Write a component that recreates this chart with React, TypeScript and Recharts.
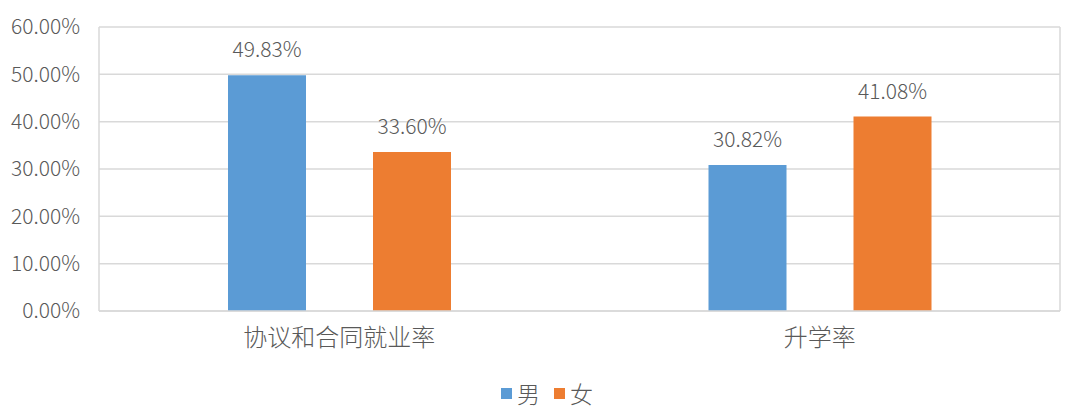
import { BarChart, Bar, XAxis, YAxis, CartesianGrid, LabelList } from "recharts";

// categories and values (percent)
const categories = ["协议和合同就业率", "升学率"];
const maleValues = [49.83, 30.82];
const femaleValues = [33.6, 41.08];
const yTicks = [0, 10, 20, 30, 40, 50, 60];

const series = [
  { key: "male", name: "男", color: "#5B9BD5" },
  { key: "female", name: "女", color: "#ED7D31" },
];

const data = categories.map((name, i) => ({
  name,
  male: maleValues[i],
  female: femaleValues[i],
}));

const FONT = '"Noto Sans CJK SC", "Noto Sans", sans-serif';
const TEXT = "#595959";
const GRID = "#D9D9D9";

const fmt = (v: number) => `${v.toFixed(2)}%`;

const App: React.FC = () => {
  return (
    <div style={{ position: "absolute", left: 0, top: 0, width: 1069, height: 411, background: "#fff", fontFamily: FONT }}>
      <BarChart
        width={1069}
        height={411}
        data={data}
        margin={{ top: 27, right: 9, bottom: 70, left: 0 }}
        barSize={78}
        barGap={67}
      >
        <CartesianGrid
          stroke={GRID}
          strokeWidth={1.5}
          vertical={true}
          verticalPoints={[99, 1060]}
        />
        <XAxis
          dataKey="name"
          height={30}
          axisLine={{ stroke: GRID, strokeWidth: 1.5 }}
          tickLine={false}
          tickMargin={12}
          tick={{ fill: TEXT, fontSize: 24, fontFamily: FONT, fontWeight: 300 }}
        />
        <YAxis
          width={99}
          domain={[0, 60]}
          ticks={yTicks}
          interval={0}
          axisLine={false}
          tickLine={false}
          tickMargin={13}
          tickFormatter={fmt}
          tick={{ fill: TEXT, fontSize: 21, fontFamily: FONT, fontWeight: 300 }}
        />
        {series.map((s) => (
          <Bar key={s.key} dataKey={s.key} name={s.name} fill={s.color} isAnimationActive={false}>
            <LabelList
              dataKey={s.key}
              position="top"
              offset={18}
              formatter={(v: any) => fmt(Number(v))}
              style={{ fill: TEXT, fontSize: 21, fontFamily: FONT, fontWeight: 300 }}
            />
          </Bar>
        ))}
      </BarChart>
      {/* legend */}
      <div
        style={{
          position: "absolute",
          left: 501,
          top: 379,
          display: "flex",
          alignItems: "center",
          fontSize: 23,
          fontWeight: 300,
          color: TEXT,
          lineHeight: "28px",
        }}
      >
        {series.map((s) => (
          <span key={s.key} style={{ display: "flex", alignItems: "center", marginRight: 14 }}>
            <span style={{ width: 11, height: 11, background: s.color, marginRight: 5, display: "inline-block" }} />
            {s.name}
          </span>
        ))}
      </div>
    </div>
  );
};

export default App;
